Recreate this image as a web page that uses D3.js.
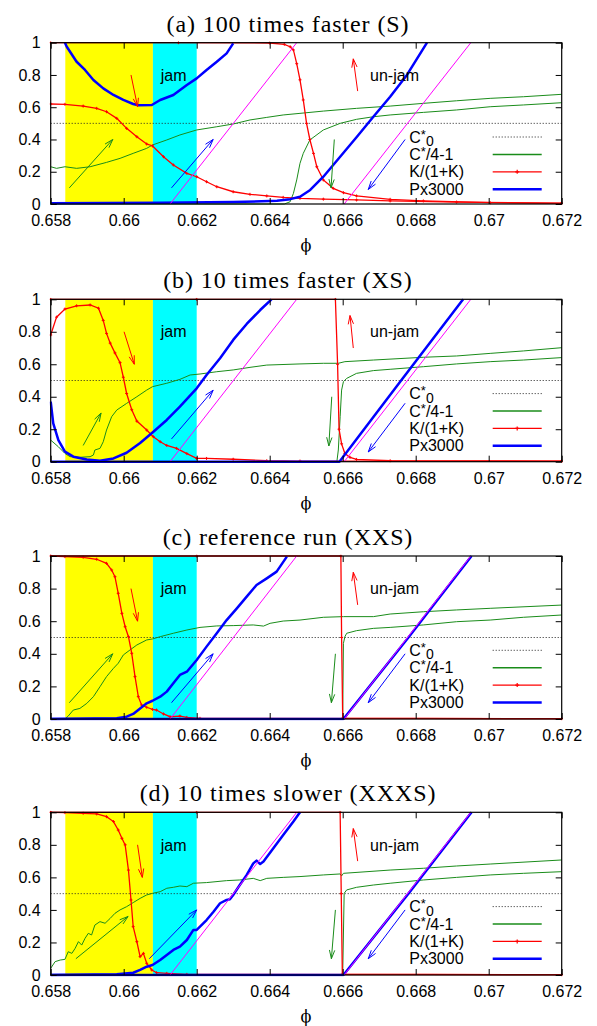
<!DOCTYPE html>
<html>
<head>
<meta charset="utf-8">
<script src="https://cdn.jsdelivr.net/npm/d3@7"></script>
<style>
  body { margin: 0; background: #fff; }
  .tick text { font-family: "Liberation Sans", Arial, sans-serif; font-size: 16px; fill: #000; }
</style>
</head>
<body>
<div id="chart"></div>
<script>
// axis ticks
const phiTicks = [0.658, 0.66, 0.662, 0.664, 0.666, 0.668, 0.67, 0.672];
const yTicks = [0, 0.2, 0.4, 0.6, 0.8, 1];
const titles = ["(a) 100 times faster (S)", "(b) 10 times faster (XS)", "(c) reference run (XXS)", "(d) 10 times slower (XXXS)"];
const legendNames = ["C*0", "C*/4-1", "K/(1+K)", "Px3000"];

// shaded phi ranges
const jamYellow = [0.6584, 0.6608];
const jamCyan = [0.6608, 0.662];
const c0Level = 0.5;
// magenta guide lines: phi where they start (y=0) and reach y=1
const magentaA = [0.66127, 0.66474];
const magentaB = [0.66604, 0.66951];

// (a) 100 times faster
const aCin = [[0.658,0.231],[0.65816,0.221],[0.65839,0.231],[0.65871,0.221],[0.65908,0.231],[0.65953,0.258],[0.6599,0.283],[0.66026,0.314],[0.66063,0.345],[0.66079,0.366],[0.66118,0.397],[0.66154,0.428],[0.662,0.459],[0.66255,0.479],[0.663,0.496],[0.66346,0.521],[0.66392,0.537],[0.66437,0.552],[0.66483,0.562],[0.66547,0.576],[0.66638,0.593],[0.6673,0.607],[0.66821,0.624],[0.66912,0.64],[0.67004,0.655],[0.67095,0.665],[0.672,0.68]];
const aCout = [[0.658,0],[0.6644,0],[0.66456,0.014],[0.66465,0.066],[0.66474,0.149],[0.66483,0.252],[0.66492,0.314],[0.6651,0.397],[0.66547,0.459],[0.66593,0.5],[0.66638,0.525],[0.66684,0.541],[0.6673,0.552],[0.66821,0.568],[0.66912,0.583],[0.67004,0.603],[0.67095,0.614],[0.672,0.628]];
const aKin = [[0.658,0.62],[0.65839,0.618],[0.65889,0.607],[0.65926,0.593],[0.65953,0.572],[0.65981,0.531],[0.66008,0.469],[0.66036,0.417],[0.66063,0.372],[0.66079,0.36],[0.66109,0.293],[0.66136,0.242],[0.66173,0.19],[0.662,0.169],[0.66227,0.138],[0.66255,0.107],[0.663,0.076],[0.66346,0.06],[0.66392,0.05],[0.66437,0.041],[0.66483,0.035],[0.66547,0.03],[0.66638,0.025],[0.6673,0.019],[0.66912,0.012],[0.672,0.006]];
const aKout = [[0.658,1],[0.6615,1],[0.664,0.998],[0.6644,0.99],[0.66456,0.975],[0.66465,0.955],[0.66474,0.87],[0.66483,0.77],[0.66492,0.645],[0.66501,0.5],[0.6651,0.4],[0.6652,0.314],[0.66529,0.231],[0.66547,0.149],[0.66574,0.097],[0.66602,0.07],[0.66638,0.05],[0.6673,0.029],[0.66821,0.019],[0.67004,0.008],[0.672,0.004]];
const aPin = [[0.65839,1.0],[0.65844,0.975],[0.65871,0.882],[0.65894,0.831],[0.65917,0.769],[0.65944,0.717],[0.65972,0.676],[0.65999,0.645],[0.66026,0.62],[0.6604,0.612],[0.66077,0.614],[0.661,0.645],[0.66136,0.676],[0.66173,0.738],[0.662,0.779],[0.66227,0.831],[0.66255,0.882],[0.66282,0.934],[0.663,0.996]];
const aPout = [[0.658,0.005],[0.661,0.008],[0.663,0.012],[0.6642,0.02],[0.66456,0.03],[0.66483,0.045],[0.66511,0.087],[0.66547,0.169],[0.66593,0.293],[0.66639,0.417],[0.66684,0.541],[0.6673,0.665],[0.66776,0.8],[0.66831,1.0]];
const aArrows = [[0.6602,0.8,0.66038,0.603],[0.65851,0.1,0.6597,0.4],[0.66131,0.1,0.66245,0.4],[0.66641,0.7,0.66629,0.9],[0.66577,0.4,0.66568,0.1],[0.66771,0.4,0.6667,0.09]];

// (b) 10 times faster
const bCin = [[0.658,0.133],[0.65821,0.092],[0.65839,0.051],[0.65853,0.031],[0.6588,0.027],[0.65908,0.031],[0.65917,0.041],[0.65921,0.072],[0.65935,0.082],[0.65944,0.123],[0.65953,0.195],[0.65967,0.277],[0.65981,0.318],[0.66008,0.359],[0.66036,0.4],[0.66063,0.441],[0.66079,0.462],[0.66118,0.483],[0.66154,0.507],[0.66182,0.534],[0.66209,0.54],[0.66255,0.554],[0.663,0.565],[0.66346,0.581],[0.66392,0.595],[0.66483,0.602],[0.66547,0.606],[0.66588,0.606],[0.66606,0.616],[0.66684,0.626],[0.66821,0.643],[0.66912,0.651],[0.67004,0.667],[0.67095,0.682],[0.672,0.702]];
const bCout = [[0.658,0],[0.66584,0],[0.66588,0.072],[0.66593,0.277],[0.66597,0.441],[0.66602,0.493],[0.66611,0.513],[0.66638,0.544],[0.66684,0.561],[0.6673,0.569],[0.66821,0.585],[0.66912,0.602],[0.67004,0.616],[0.67095,0.626],[0.672,0.641]];
const bKin = [[0.658,0.78],[0.65816,0.89],[0.65839,0.94],[0.65871,0.96],[0.65908,0.965],[0.65931,0.945],[0.65944,0.87],[0.65953,0.79],[0.65963,0.73],[0.65976,0.67],[0.6599,0.61],[0.65999,0.52],[0.66008,0.42],[0.66022,0.32],[0.66036,0.25],[0.66063,0.195],[0.66081,0.154],[0.661,0.123],[0.66118,0.1],[0.66145,0.082],[0.66173,0.05],[0.662,0.02],[0.66227,0.02],[0.663,0.015],[0.66392,0.006],[0.66483,0.004],[0.672,0.003]];
const bKout = [[0.658,1],[0.662,1],[0.6658,1],[0.66586,0.6],[0.6659,0.2],[0.66597,0.11],[0.66606,0.05],[0.6662,0.027],[0.66638,0.014],[0.6673,0.006],[0.672,0.004]];
const bPin = [[0.658,0.37],[0.65807,0.236],[0.65821,0.133],[0.65839,0.062],[0.65862,0.031],[0.65899,0.014],[0.65935,0.006],[0.65972,0.02],[0.66008,0.055],[0.66045,0.115],[0.66079,0.18],[0.66118,0.257],[0.66154,0.339],[0.662,0.452],[0.66227,0.534],[0.66264,0.637],[0.663,0.75],[0.66337,0.848],[0.66374,0.934],[0.66405,1.0]];
const bPout = [[0.658,0],[0.66591,0],[0.6676,0.5],[0.6693,1.0]];
const bArrows = [[0.66001,0.8,0.66029,0.6],[0.65889,0.1,0.65938,0.3],[0.66131,0.14,0.66245,0.44],[0.66629,0.7,0.6662,0.9],[0.6657,0.4,0.66562,0.097],[0.66771,0.36,0.6667,0.06]];

// (c) reference run
const cCin = [[0.658,0],[0.65839,0],[0.65848,0.018],[0.65862,0.055],[0.6588,0.065],[0.65899,0.096],[0.65917,0.137],[0.65935,0.198],[0.65953,0.26],[0.65972,0.311],[0.65985,0.342],[0.65999,0.393],[0.66017,0.423],[0.66036,0.454],[0.66063,0.485],[0.66079,0.491],[0.661,0.505],[0.66136,0.526],[0.66173,0.546],[0.66209,0.562],[0.66255,0.571],[0.663,0.573],[0.66355,0.577],[0.66383,0.57],[0.66401,0.587],[0.66437,0.601],[0.66483,0.607],[0.66547,0.624],[0.66602,0.628],[0.66684,0.628],[0.6673,0.644],[0.66821,0.658],[0.66912,0.669],[0.67004,0.679],[0.672,0.699]];
const cCout = [[0.658,0],[0.666,0],[0.66602,0.464],[0.66606,0.505],[0.66611,0.526],[0.66638,0.542],[0.66684,0.556],[0.6673,0.562],[0.66821,0.577],[0.66912,0.597],[0.67004,0.607],[0.67095,0.624],[0.672,0.638]];
const cKin = [[0.658,1],[0.65839,0.996],[0.65889,0.992],[0.65926,0.98],[0.65953,0.955],[0.65967,0.914],[0.65976,0.873],[0.65985,0.771],[0.65995,0.648],[0.66004,0.566],[0.66013,0.505],[0.66022,0.403],[0.66031,0.26],[0.6604,0.137],[0.66049,0.086],[0.66063,0.072],[0.66079,0.059],[0.6609,0.055],[0.66109,0.031],[0.66127,0.014],[0.66154,0.018],[0.66173,0.01],[0.66209,0.004],[0.672,0.002]];
const cKout = [[0.658,1],[0.662,1],[0.66595,1],[0.66597,0.5],[0.666,0.005],[0.672,0.002]];
const cPin = [[0.658,0],[0.65981,0.004],[0.66008,0.014],[0.66026,0.031],[0.66045,0.065],[0.66063,0.096],[0.66079,0.112],[0.661,0.137],[0.66118,0.168],[0.66136,0.219],[0.66154,0.27],[0.66173,0.29],[0.662,0.362],[0.66227,0.444],[0.66255,0.526],[0.66282,0.607],[0.6631,0.679],[0.66337,0.751],[0.66364,0.822],[0.66392,0.863],[0.66419,0.904],[0.66447,0.996]];
const cPout = [[0.658,0],[0.66602,0],[0.6678,0.5],[0.66953,1]];
const cArrows = [[0.6602,0.8,0.66038,0.6],[0.65851,0.1,0.6597,0.4],[0.66131,0.1,0.66245,0.4],[0.66641,0.7,0.66629,0.9],[0.6658,0.4,0.66569,0.1],[0.66771,0.4,0.6667,0.1]];

// (d) 10 times slower
const dCin = [[0.658,0.041],[0.65812,0.082],[0.65826,0.092],[0.65839,0.096],[0.65848,0.143],[0.65858,0.133],[0.65867,0.164],[0.65876,0.205],[0.65885,0.184],[0.65894,0.225],[0.65903,0.256],[0.65912,0.246],[0.65921,0.307],[0.65935,0.328],[0.65949,0.318],[0.65963,0.348],[0.65976,0.379],[0.6599,0.4],[0.66008,0.42],[0.66026,0.445],[0.66045,0.471],[0.66063,0.492],[0.66079,0.502],[0.661,0.512],[0.66118,0.533],[0.66136,0.539],[0.66154,0.547],[0.66173,0.543],[0.66191,0.564],[0.66227,0.568],[0.66282,0.58],[0.66318,0.584],[0.66355,0.594],[0.66374,0.58],[0.66392,0.594],[0.66437,0.6],[0.66483,0.605],[0.66547,0.615],[0.66593,0.621],[0.66597,0.609],[0.66602,0.625],[0.6673,0.645],[0.66821,0.656],[0.66912,0.67],[0.67004,0.682],[0.672,0.707]];
const dCout = [[0.658,0],[0.666,0],[0.66604,0.502],[0.66611,0.523],[0.66638,0.539],[0.66684,0.553],[0.6673,0.564],[0.66821,0.584],[0.66912,0.6],[0.67004,0.615],[0.67095,0.625],[0.672,0.635]];
const dKin = [[0.658,1],[0.65839,0.998],[0.65889,0.994],[0.65926,0.99],[0.65953,0.973],[0.65972,0.943],[0.65985,0.891],[0.65995,0.84],[0.66004,0.8],[0.66013,0.645],[0.6602,0.461],[0.66026,0.297],[0.66036,0.205],[0.66045,0.113],[0.66054,0.133],[0.66063,0.072],[0.66077,0.031],[0.6609,0.014],[0.66118,0.01],[0.66173,0.004],[0.672,0.002]];
const dKout = [[0.658,1],[0.662,1],[0.66593,1],[0.66596,0.5],[0.66599,0.005],[0.672,0.002]];
const dPin = [[0.658,0],[0.65981,0.004],[0.66026,0.014],[0.66045,0.031],[0.66063,0.051],[0.66079,0.061],[0.661,0.092],[0.66118,0.123],[0.66136,0.154],[0.66154,0.174],[0.66173,0.215],[0.66191,0.277],[0.662,0.277],[0.66209,0.297],[0.66227,0.338],[0.66246,0.389],[0.66264,0.441],[0.66282,0.461],[0.66291,0.465],[0.663,0.492],[0.66318,0.553],[0.66337,0.615],[0.66355,0.686],[0.66364,0.703],[0.66374,0.682],[0.66383,0.697],[0.6641,0.779],[0.66437,0.861],[0.66465,0.943],[0.66483,1.0]];
const dPout = [[0.658,0],[0.66602,0],[0.6678,0.5],[0.66953,1]];
const dArrows = [[0.66038,0.8,0.66051,0.6],[0.65869,0.1,0.66012,0.36],[0.6607,0.1,0.662,0.4],[0.66641,0.7,0.66629,0.9],[0.6658,0.4,0.66569,0.1],[0.66771,0.4,0.6667,0.1]];

// annotation text positions (phi, y)
const jamLabel = [0.66137, 0.765];
const unjamLabel = [0.66742, 0.765];

const RED = "#ff0000", GREEN = "#1a8c1a", BLUE = "#0000ff", MAGENTA = "#ff00ff";
const arrowColors = [RED, GREEN, BLUE, RED, GREEN, BLUE];

const panels = [
  { title: titles[0], top: 42.7, h: 161.3, C: [aCin, aCout], K: [aKin, aKout], P: [aPin, aPout], arrows: aArrows },
  { title: titles[1], top: 299.3, h: 162.4, C: [bCin, bCout], K: [bKin, bKout], P: [bPin, bPout], arrows: bArrows },
  { title: titles[2], top: 556, h: 163, C: [cCin, cCout], K: [cKin, cKout], P: [cPin, cPout], arrows: cArrows },
  { title: titles[3], top: 812.3, h: 162.7, C: [dCin, dCout], K: [dKin, dKout], P: [dPin, dPout], arrows: dArrows }
];

const WIDTH = 597, HEIGHT = 1026;
const LEFT = 50.7, RIGHT = 561.7;

const svg = d3.select("#chart").append("svg")
  .attr("width", WIDTH)
  .attr("height", HEIGHT);

const x = d3.scaleLinear().domain([0.658, 0.672]).range([LEFT, RIGHT]);

function arrowPath(x0, y0, x1, y1) {
  const ang = Math.atan2(y1 - y0, x1 - x0);
  const L = 9, A = 0.30;
  const hx1 = x1 - L * Math.cos(ang - A), hy1 = y1 - L * Math.sin(ang - A);
  const hx2 = x1 - L * Math.cos(ang + A), hy2 = y1 - L * Math.sin(ang + A);
  return `M${x0},${y0}L${x1},${y1}M${hx1},${hy1}L${x1},${y1}L${hx2},${hy2}`;
}

panels.forEach((p, i) => {
  const bottom = p.top + p.h;
  const y = d3.scaleLinear().domain([0, 1]).range([bottom, p.top]);
  const g = svg.append("g");
  const line = d3.line().x(d => x(d[0])).y(d => y(d[1]));

  const clipId = "clip" + i;
  svg.append("clipPath").attr("id", clipId)
    .append("rect")
    .attr("x", LEFT - 1).attr("y", p.top - 1.5)
    .attr("width", RIGHT - LEFT + 2).attr("height", p.h + 3);

  // title
  g.append("text")
    .attr("x", 288).attr("y", p.top - 11)
    .attr("text-anchor", "middle")
    .attr("font-family", "'Liberation Serif', 'Times New Roman', serif")
    .attr("font-size", 24)
    .attr("letter-spacing", 0.9)
    .text(p.title);

  // shaded bands
  g.append("rect")
    .attr("x", x(jamYellow[0])).attr("y", p.top)
    .attr("width", x(jamYellow[1]) - x(jamYellow[0])).attr("height", p.h)
    .attr("fill", "#ffff00");
  g.append("rect")
    .attr("x", x(jamCyan[0])).attr("y", p.top)
    .attr("width", x(jamCyan[1]) - x(jamCyan[0])).attr("height", p.h)
    .attr("fill", "#00ffff");

  const data = g.append("g").attr("clip-path", `url(#${clipId})`);

  // C*0
  data.append("path")
    .attr("d", line([[0.658, c0Level], [0.672, c0Level]]))
    .attr("fill", "none").attr("stroke", "#222").attr("stroke-width", 1)
    .attr("stroke-dasharray", "1,2");

  // C*/4-1
  p.C.forEach(s => {
    data.append("path").attr("d", line(s))
      .attr("fill", "none").attr("stroke", GREEN).attr("stroke-width", 1);
  });

  // K/(1+K) with point markers
  p.K.forEach(s => {
    data.append("path").attr("d", line(s))
      .attr("fill", "none").attr("stroke", RED).attr("stroke-width", 1.3);
    data.selectAll(null).data(s).enter().append("path")
      .attr("d", d => `M${x(d[0]) - 1.5},${y(d[1])}h3M${x(d[0])},${y(d[1]) - 1.5}v3`)
      .attr("stroke", RED).attr("stroke-width", 1);
  });

  // Px3000
  p.P.forEach(s => {
    data.append("path").attr("d", line(s))
      .attr("fill", "none").attr("stroke", BLUE).attr("stroke-width", 2.5)
      .attr("stroke-linejoin", "round");
  });

  // magenta guide lines
  [magentaA, magentaB].forEach(m => {
    data.append("path").attr("d", line([[m[0], 0], [m[1], 1]]))
      .attr("fill", "none").attr("stroke", MAGENTA).attr("stroke-width", 1);
  });

  // arrows
  p.arrows.forEach((a, k) => {
    g.append("path")
      .attr("d", arrowPath(x(a[0]), y(a[1]), x(a[2]), y(a[3])))
      .attr("fill", "none").attr("stroke", arrowColors[k]).attr("stroke-width", 1);
  });

  // labels
  g.append("text").attr("x", x(jamLabel[0])).attr("y", y(jamLabel[1]))
    .attr("text-anchor", "middle")
    .attr("font-family", "'Liberation Sans', Arial, sans-serif").attr("font-size", 16)
    .text("jam");
  g.append("text").attr("x", x(unjamLabel[0])).attr("y", y(unjamLabel[1]))
    .attr("text-anchor", "middle")
    .attr("font-family", "'Liberation Sans', Arial, sans-serif").attr("font-size", 16)
    .text("un-jam");

  // axes (inward ticks, mirrored)
  const fmt = d => String(d);
  g.append("g").attr("transform", `translate(0,${bottom})`)
    .call(d3.axisBottom(x).tickValues(phiTicks).tickSize(-6).tickPadding(11).tickFormat(fmt))
    .call(s => s.select(".domain").remove());
  g.append("g").attr("transform", `translate(0,${p.top})`)
    .call(d3.axisTop(x).tickValues(phiTicks).tickSize(-6).tickFormat(""))
    .call(s => s.select(".domain").remove());
  g.append("g").attr("transform", `translate(${LEFT},0)`)
    .call(d3.axisLeft(y).tickValues(yTicks).tickSize(-6).tickPadding(10).tickFormat(fmt))
    .call(s => s.select(".domain").remove());
  g.append("g").attr("transform", `translate(${RIGHT},0)`)
    .call(d3.axisRight(y).tickValues(yTicks).tickSize(-6).tickFormat(""))
    .call(s => s.select(".domain").remove());
  g.selectAll(".tick line").attr("stroke", "#000");
  g.selectAll(".tick text").attr("font-size", null).attr("font-family", null);

  g.append("rect")
    .attr("x", LEFT).attr("y", p.top)
    .attr("width", RIGHT - LEFT).attr("height", p.h)
    .attr("fill", "none").attr("stroke", "#000").attr("stroke-width", 1.2);

  // x label
  g.append("text").attr("x", 306).attr("y", bottom + 47)
    .attr("text-anchor", "middle")
    .attr("font-family", "'DejaVu Serif', serif").attr("font-size", 16)
    .text("\u03D5");

  // legend
  const lx = 409.3, sx0 = 492.7, sx1 = 541.7;
  const leg = g.append("g").attr("font-family", "'Liberation Sans', Arial, sans-serif").attr("font-size", 16);
  legendNames.forEach((name, k) => {
    const ly = p.top + 94.3 + k * 17.4;
    const t = leg.append("text").attr("x", lx).attr("y", ly + 5.5);
    if (k === 0) {
      t.append("tspan").text("C");
      t.append("tspan").attr("dy", -4).attr("font-size", 13).text("*");
      t.append("tspan").attr("dy", 7.5).attr("font-size", 14).text("0");
    } else if (k === 1) {
      t.append("tspan").text("C");
      t.append("tspan").attr("dy", -4).attr("font-size", 13).text("*");
      t.append("tspan").attr("dy", 4).text("/4-1");
    } else {
      t.text(name);
    }
    const st = leg.append("line")
      .attr("x1", sx0).attr("x2", sx1).attr("y1", ly).attr("y2", ly);
    if (k === 0) st.attr("stroke", "#222").attr("stroke-dasharray", "1,2").attr("stroke-width", 1);
    if (k === 1) st.attr("stroke", GREEN).attr("stroke-width", 1.5);
    if (k === 2) {
      st.attr("stroke", RED).attr("stroke-width", 1.2);
      const mx = (sx0 + sx1) / 2;
      leg.append("path").attr("d", `M${mx - 2},${ly}h4M${mx},${ly - 2}v4`)
        .attr("stroke", RED).attr("stroke-width", 1.2);
    }
    if (k === 3) st.attr("stroke", BLUE).attr("stroke-width", 2.5);
  });
});
</script>
</body>
</html>
